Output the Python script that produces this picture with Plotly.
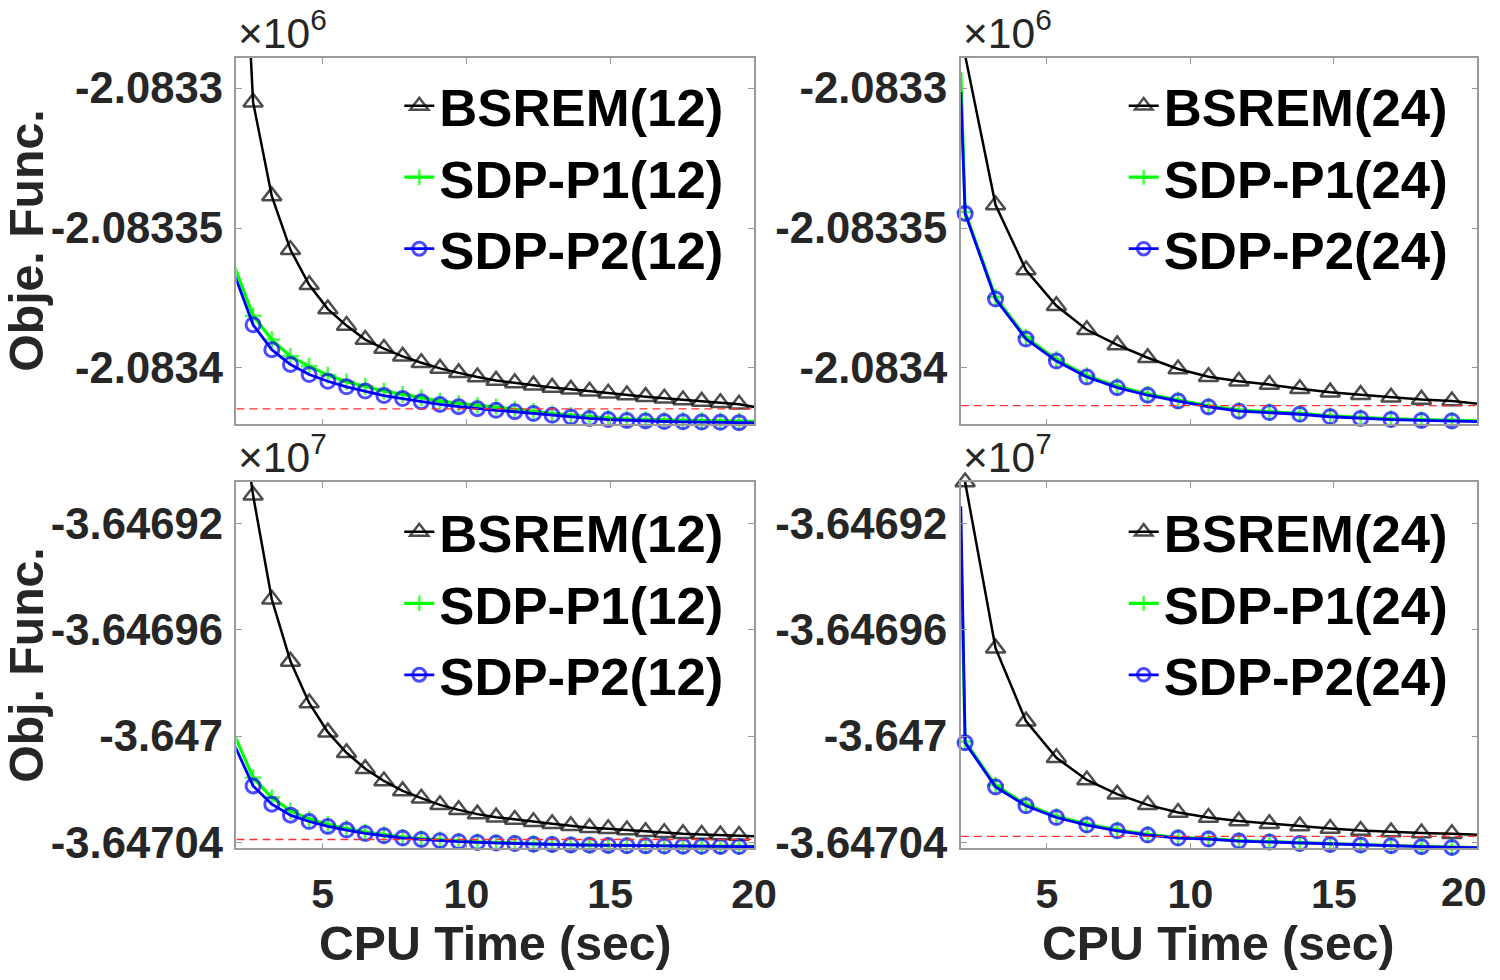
import plotly.graph_objects as go

# ---------------- data ----------------
time_12 = [1.93, 2.58, 3.23, 3.88, 4.53, 5.18, 5.83, 6.48, 7.13, 7.78, 8.43, 9.08, 9.73,
           10.38, 11.03, 11.68, 12.33, 12.98, 13.63, 14.28, 14.93, 15.58, 16.23, 16.88,
           17.53, 18.18, 18.83, 19.48, 20.13]
time_24 = [2.0, 2.15, 3.21, 4.27, 5.33, 6.39, 7.45, 8.51, 9.57, 10.63, 11.69, 12.75,
           13.81, 14.87, 15.93, 16.99, 18.05, 19.11, 20.17]

# top row (x 1e6)
bsrem_top_12 = [-2083173, -2083305.0, -2083338.6, -2083357.8, -2083370.3, -2083379.0,
                -2083384.9, -2083389.9, -2083393.1, -2083395.9, -2083398.2, -2083400.2,
                -2083401.8, -2083403.3, -2083404.5, -2083405.4, -2083406.2, -2083407.0,
                -2083407.7, -2083408.4, -2083409.1, -2083409.7, -2083410.3, -2083410.9,
                -2083411.5, -2083412.0, -2083412.5, -2083413.0, -2083414.2]
p1_top_12 = [-2083363.6, -2083381.4, -2083389.9, -2083395.9, -2083399.4, -2083402.6,
             -2083405.0, -2083406.6, -2083408.3, -2083409.5, -2083410.7, -2083411.9,
             -2083412.7, -2083413.4, -2083414.0, -2083414.8, -2083415.6, -2083416.4,
             -2083417.0, -2083417.6, -2083418.0, -2083418.3, -2083418.5, -2083418.7,
             -2083418.8, -2083418.9, -2083419.0, -2083419.1, -2083419.2]
p2_top_12 = [-2083366.6, -2083384.6, -2083393.5, -2083398.8, -2083402.4, -2083404.8,
             -2083406.8, -2083408.3, -2083409.9, -2083411.0, -2083412.1, -2083413.1,
             -2083413.9, -2083414.6, -2083415.2, -2083415.7, -2083416.3, -2083417.0,
             -2083417.6, -2083418.1, -2083418.5, -2083418.8, -2083419.0, -2083419.2,
             -2083419.3, -2083419.4, -2083419.5, -2083419.6, -2083419.7]
ref_top_12 = -2083414.7

bsrem_top_24 = [-2083230, -2083288.3, -2083341.8, -2083365.0, -2083377.8, -2083386.4,
                -2083391.8, -2083396.4, -2083400.4, -2083403.2, -2083404.8, -2083406.0,
                -2083407.5, -2083408.7, -2083409.6, -2083410.5, -2083411.3, -2083411.9,
                -2083413.0]
p1_top_24 = [-2083294.3, -2083344.3, -2083374.8, -2083389.1, -2083397.0, -2083402.8,
             -2083406.6, -2083409.4, -2083411.5, -2083413.6, -2083415.1, -2083415.7,
             -2083416.3, -2083417.2, -2083417.8, -2083418.2, -2083418.5, -2083418.7,
             -2083419.0]
p2_top_24 = [-2083301.4, -2083344.8, -2083375.4, -2083389.7, -2083397.6, -2083403.3,
             -2083407.1, -2083409.8, -2083411.9, -2083414.0, -2083415.5, -2083416.0,
             -2083416.6, -2083417.5, -2083418.1, -2083418.5, -2083418.8, -2083419.0,
             -2083419.3]
ref_top_24 = -2083413.5

# bottom row (x 1e7)
bsrem_bot_12 = [-36468600, -36469093.5, -36469485, -36469718.6, -36469875, -36469984.9,
                -36470062.5, -36470122.5, -36470168.6, -36470206.1, -36470233.5,
                -36470258.6, -36470277.4, -36470293.5, -36470305, -36470314, -36470322.4,
                -36470329.9, -36470337.4, -36470344.9, -36470348.6, -36470353.5,
                -36470359.9, -36470363.6, -36470367.4, -36470370, -36470372.3,
                -36470373.8, -36470377]
p1_bot_12 = [-36469994.9, -36470156.3, -36470231.3, -36470281.1, -36470312.3, -36470333,
             -36470347.5, -36470361.3, -36470370.9, -36470380, -36470385.8, -36470390.6,
             -36470394.9, -36470398, -36470400.3, -36470403, -36470405, -36470406.5,
             -36470408, -36470409.5, -36470410.5, -36470411.5, -36470412, -36470412.5,
             -36470413, -36470413.5, -36470414, -36470414.5, -36470415]
p2_bot_12 = [-36470033.1, -36470187.4, -36470256, -36470297.3, -36470321.3, -36470340,
             -36470353.5, -36470366.3, -36470374.9, -36470383.5, -36470388.8, -36470393.6,
             -36470397.4, -36470400, -36470402.3, -36470404.5, -36470406.5, -36470408,
             -36470409.5, -36470410.5, -36470411.5, -36470412.5, -36470413, -36470413.5,
             -36470414, -36470414.5, -36470415, -36470415.5, -36470416]
ref_bot_12 = -36470389

bsrem_bot_24 = [-36468700, -36469043.6, -36469668.8, -36469943.6, -36470081.3, -36470164.9,
                -36470218.5, -36470258.6, -36470287.5, -36470306.3, -36470319.8,
                -36470329.9, -36470338.5, -36470347.5, -36470355, -36470361, -36470364.8,
                -36470367.4, -36470372]
p1_bot_24 = [-36469270, -36470020, -36470185, -36470257, -36470302, -36470331, -36470353,
             -36470370, -36470381.5, -36470386, -36470393.5, -36470397.5, -36470402.5,
             -36470406.5, -36470409, -36470411.5, -36470415, -36470418, -36470419.5]
p2_bot_24 = [-36469134.7, -36470025, -36470191.1, -36470262.4, -36470306.3, -36470334.8,
             -36470356.1, -36470372.3, -36470383.5, -36470387.3, -36470394.8, -36470398.5,
             -36470403.8, -36470407.5, -36470409.8, -36470412.4, -36470416, -36470418.8,
             -36470420]
ref_bot_24 = -36470377

x_range = [2, 20]
x_ticks = [5, 10, 15, 20]
x_ticklabels = ["5", "10", "15", "20"]
y_range_top = [-2083420.2, -2083289.2]
y_ticks_top = [-2083300, -2083350, -2083400]
y_ticklabels_top = ["-2.0833", "-2.08335", "-2.0834"]
y_range_bot = [-36470422.5, -36469043.6]
y_ticks_bot = [-36469200, -36469600, -36470000, -36470400]
y_ticklabels_bot = ["-3.64692", "-3.64696", "-3.647", "-3.64704"]

# ---------------- figure ----------------
# page must fit the window (no scrollbars); the page is photographed slightly scaled
W, H = 1504, 976
SX, BX = 0.9855, 6.4
SY, BY = 0.986, 6.8
FS = 1 / 0.986
FONT = "Liberation Sans, Arial, Helvetica, sans-serif"
TXT = "#262626"
AXC = "#9a9a9a"


def fx(p):
    return ((p - BX) / SX) / W


def fy(p):
    return 1 - ((p - BY) / SY) / H


def fs(v):
    return round(v * FS, 1)


panels = [
    dict(ax="", dom_x=(235, 753), dom_y=(57, 425), t=time_12, n="12",
         ys=(bsrem_top_12, p1_top_12, p2_top_12), ref=ref_top_12,
         yr=y_range_top, yt=y_ticks_top, ytl=y_ticklabels_top, xlab=False,
         leg="legend", legx=398, legy=64, exp="6", last_lab_inside=False),
    dict(ax="2", dom_x=(960, 1477), dom_y=(57, 425), t=time_24, n="24",
         ys=(bsrem_top_24, p1_top_24, p2_top_24), ref=ref_top_24,
         yr=y_range_top, yt=y_ticks_top, ytl=y_ticklabels_top, xlab=False,
         leg="legend2", legx=1123, legy=64, exp="6", last_lab_inside=False),
    dict(ax="3", dom_x=(235, 753), dom_y=(483, 851), t=time_12, n="12",
         ys=(bsrem_bot_12, p1_bot_12, p2_bot_12), ref=ref_bot_12,
         yr=y_range_bot, yt=y_ticks_bot, ytl=y_ticklabels_bot, xlab=True,
         leg="legend3", legx=398, legy=492, exp="7", last_lab_inside=False),
    dict(ax="4", dom_x=(960, 1477), dom_y=(483, 851), t=time_24, n="24",
         ys=(bsrem_bot_24, p1_bot_24, p2_bot_24), ref=ref_bot_24,
         yr=y_range_bot, yt=y_ticks_bot, ytl=y_ticklabels_bot, xlab=True,
         leg="legend4", legx=1123, legy=492, exp="7", last_lab_inside=True),
]

styles = [
    dict(name="BSREM", color="black", lw=2.5, symbol="triangle-up-open", ms=17, mlw=2.5),
    dict(name="SDP-P1", color="#00ff00", lw=3.2, symbol="cross-thin", ms=12, mlw=2.5),
    dict(name="SDP-P2", color="#0000ff", lw=2.8, symbol="circle-open", ms=14, mlw=3),
]

fig = go.Figure()
layout = dict(width=W, height=H, margin=dict(l=0, r=0, t=0, b=0),
              paper_bgcolor="white", plot_bgcolor="white", showlegend=True)
annotations = []
XTICK_FONT = dict(family=FONT, size=fs(40.5), color=TXT, weight="bold")

for p in panels:
    xa = "x" + p["ax"]
    ya = "y" + p["ax"]
    for st, yv in zip(styles, p["ys"]):
        sizes = [st["ms"] if x_range[0] < t <= x_range[1] else 0 for t in p["t"]]
        fig.add_trace(go.Scatter(
            x=p["t"], y=yv, mode="lines+markers", name=f"{st['name']}({p['n']})",
            line=dict(color=st["color"], width=st["lw"]),
            marker=dict(symbol=st["symbol"], size=sizes, color=st["color"],
                        line=dict(color=st["color"], width=st["mlw"])),
            cliponaxis=False, xaxis=xa, yaxis=ya, legend=p["leg"]))
    fig.add_trace(go.Scatter(
        x=x_range, y=[p["ref"], p["ref"]], mode="lines", showlegend=False,
        line=dict(color="#ff3030", width=1.3, dash="8px,5px"),
        xaxis=xa, yaxis=ya, hoverinfo="skip"))

    xt_text = list(x_ticklabels)
    if p["last_lab_inside"]:
        # last label at the page edge: drawn as a text kept inside the picture
        xt_text[-1] = ""
        annotations.append(dict(
            text=x_ticklabels[-1], xref="paper", yref="paper",
            x=fx(1489), y=fy(895), xanchor="right", yanchor="middle",
            showarrow=False, font=XTICK_FONT))

    axis_common = dict(showline=True, linecolor=AXC, linewidth=1.5, mirror="ticks",
                       ticks="inside", ticklen=6, tickcolor=AXC, tickwidth=1.2,
                       showgrid=False, zeroline=False)
    layout["xaxis" + p["ax"]] = dict(
        domain=[fx(p["dom_x"][0]), fx(p["dom_x"][1])], range=x_range,
        tickvals=x_ticks, ticktext=xt_text,
        showticklabels=p["xlab"], anchor=ya, ticklabelstandoff=9,
        tickfont=XTICK_FONT, **axis_common)
    layout["yaxis" + p["ax"]] = dict(
        domain=[fy(p["dom_y"][1]), fy(p["dom_y"][0])], range=p["yr"],
        tickvals=p["yt"], ticktext=p["ytl"], anchor=xa, ticklabelstandoff=3,
        tickfont=dict(family=FONT, size=fs(43), color=TXT, weight="bold"),
        **axis_common)
    layout[p["leg"]] = dict(
        x=fx(p["legx"]), y=fy(p["legy"]), xanchor="left", yanchor="top",
        bgcolor="rgba(0,0,0,0)", borderwidth=0, tracegroupgap=0,
        font=dict(family=FONT, size=fs(52), color="black", weight="bold"))

    annotations.append(dict(
        text=f"×10<sup>{p['exp']}</sup>", xref="paper", yref="paper",
        x=fx(p["dom_x"][0]), y=fy(p["dom_y"][0] + 1), xanchor="left",
        yanchor="bottom", showarrow=False,
        font=dict(family=FONT, size=fs(42), color=TXT)))

# axis titles
for yc, txt in [(241, "Obje. Func."), (667, "Obj. Func.")]:
    annotations.append(dict(text=txt, xref="paper", yref="paper", x=fx(25), y=fy(yc),
                            xanchor="center", yanchor="middle", textangle=-90,
                            showarrow=False,
                            font=dict(family=FONT, size=fs(47.5), color=TXT,
                                      weight="bold")))
for xc in [494, 1218]:
    annotations.append(dict(text="CPU Time (sec)", xref="paper", yref="paper",
                            x=fx(xc), y=fy(946), xanchor="center", yanchor="middle",
                            showarrow=False,
                            font=dict(family=FONT, size=fs(47.5), color=TXT,
                                      weight="bold")))

layout["annotations"] = annotations
fig.update_layout(**layout)
fig.write_html("out.html")
